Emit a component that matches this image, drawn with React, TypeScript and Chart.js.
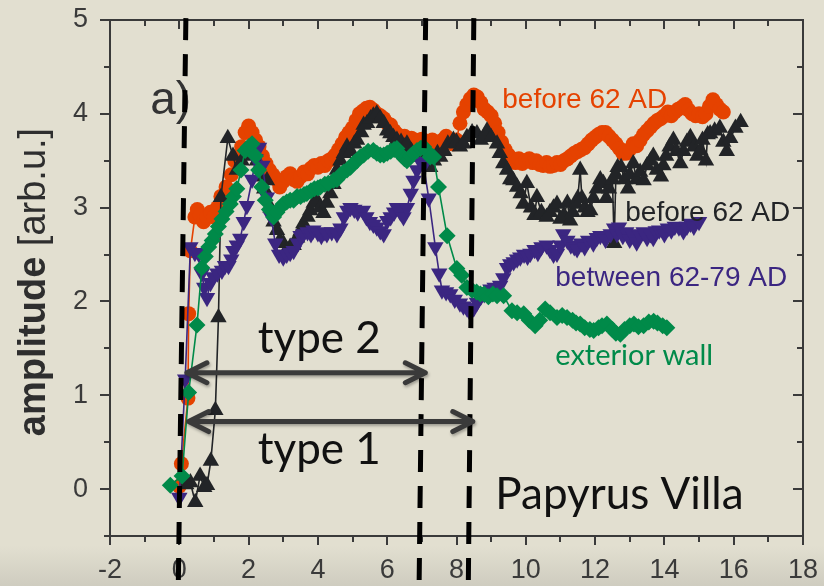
import React, { useEffect, useRef } from 'react';
import { Chart, registerables } from 'chart.js';

Chart.register(...registerables);

// ---- data ---------------------------------------------------------------
// Fresco samples, amplitude vs. position

const before62Red: [number, number][] = [
  [0.0, 0.03], [0.06, 0.27], [0.25, 0.97], [0.27, 1.87], [0.32, 2.54],
  [0.45, 2.9], [0.52, 2.98], [0.6, 2.92], [0.7, 2.85], [0.8, 2.9],
  [0.9, 2.95], [1.0, 2.9], [1.1, 3.0], [1.2, 3.12], [1.35, 3.22],
  [1.5, 3.35], [1.6, 3.5], [1.7, 3.55], [1.8, 3.65], [1.9, 3.8],
  [2.0, 3.87], [2.1, 3.8], [2.2, 3.72], [2.3, 3.65], [2.4, 3.55],
  [2.5, 3.47], [2.6, 3.4], [2.7, 3.35], [2.8, 3.3], [2.9, 3.22],
  [3.0, 3.28], [3.1, 3.33], [3.2, 3.36], [3.3, 3.3], [3.4, 3.28],
  [3.5, 3.33], [3.6, 3.38], [3.7, 3.36], [3.8, 3.42], [3.9, 3.45],
  [4.0, 3.43], [4.1, 3.47], [4.2, 3.45], [4.3, 3.5], [4.4, 3.52],
  [4.5, 3.56], [4.6, 3.62], [4.7, 3.68], [4.8, 3.75], [4.9, 3.8],
  [5.0, 3.85], [5.1, 3.93], [5.2, 4.0], [5.3, 4.03], [5.4, 4.06],
  [5.5, 4.07], [5.6, 4.04], [5.7, 4.0], [5.8, 3.98], [5.9, 3.95],
  [6.0, 3.9], [6.1, 3.88], [6.2, 3.82], [6.3, 3.78], [6.4, 3.75],
  [6.5, 3.76], [6.6, 3.72], [6.7, 3.74], [6.8, 3.72], [6.9, 3.7],
  [7.0, 3.73], [7.1, 3.71], [7.2, 3.68], [7.3, 3.72], [7.4, 3.7],
  [7.5, 3.66], [7.6, 3.72], [7.7, 3.76], [7.8, 3.7], [7.9, 3.68],
  [8.0, 3.72], [8.1, 3.9], [8.2, 4.02], [8.3, 4.1], [8.4, 4.16],
  [8.5, 4.2], [8.6, 4.18], [8.7, 4.12], [8.8, 4.05], [8.9, 4.02],
  [9.0, 3.98], [9.1, 3.9], [9.2, 3.8], [9.3, 3.7], [9.4, 3.62],
  [9.5, 3.56], [9.6, 3.52], [9.7, 3.48], [9.8, 3.52], [9.9, 3.47],
  [10.0, 3.5], [10.1, 3.52], [10.2, 3.48], [10.3, 3.5], [10.4, 3.46],
  [10.5, 3.45], [10.6, 3.48], [10.7, 3.44], [10.8, 3.45], [10.9, 3.48],
  [11.0, 3.46], [11.1, 3.5], [11.2, 3.52], [11.3, 3.55], [11.4, 3.58],
  [11.5, 3.6], [11.6, 3.62], [11.7, 3.64], [11.8, 3.68], [11.9, 3.72],
  [12.0, 3.75], [12.1, 3.78], [12.2, 3.8], [12.3, 3.8], [12.4, 3.76],
  [12.5, 3.72], [12.6, 3.68], [12.7, 3.63], [12.8, 3.58], [12.9, 3.58],
  [13.0, 3.62], [13.1, 3.68], [13.2, 3.66], [13.3, 3.72], [13.4, 3.78],
  [13.5, 3.82], [13.6, 3.86], [13.7, 3.9], [13.8, 3.93], [13.9, 3.95],
  [14.0, 3.98], [14.1, 4.02], [14.2, 3.98], [14.3, 4.02], [14.4, 4.05],
  [14.5, 4.07], [14.6, 4.1], [14.7, 4.04], [14.8, 4.0], [14.9, 3.98],
  [15.0, 4.0], [15.1, 3.97], [15.2, 4.0], [15.3, 4.08], [15.4, 4.15],
  [15.5, 4.1], [15.6, 4.05], [15.7, 4.02],
];

const before62Black: [number, number][] = [
  [0.2, 0.05], [0.32, 0.07], [0.46, -0.14], [0.6, 0.14], [0.72, 0.02],
  [0.8, 0.04], [0.91, 0.3], [1.04, 0.84], [1.13, 1.83], [1.2, 3.11],
  [1.4, 3.74], [1.55, 3.55], [1.66, 3.4], [1.8, 3.5], [2.0, 3.55],
  [2.1, 3.62], [2.24, 3.5], [2.33, 3.33], [2.45, 3.2], [2.53, 3.29],
  [2.63, 3.0], [2.72, 2.85], [2.82, 2.76], [2.9, 2.65], [3.0, 2.62],
  [3.1, 2.55], [3.2, 2.58], [3.3, 2.6], [3.4, 2.68], [3.5, 2.75],
  [3.58, 2.83], [3.7, 2.9], [3.78, 2.97], [3.88, 3.05], [3.97, 3.08],
  [4.06, 3.0], [4.16, 2.94], [4.26, 3.05], [4.36, 3.15], [4.45, 3.25],
  [4.55, 3.4], [4.65, 3.5], [4.75, 3.58], [4.84, 3.65], [4.95, 3.6],
  [5.05, 3.68], [5.13, 3.72], [5.25, 3.8], [5.32, 3.88], [5.42, 3.9],
  [5.52, 3.95], [5.6, 3.98], [5.7, 4.0], [5.8, 3.95], [5.9, 3.9],
  [6.0, 3.82], [6.09, 3.79], [6.18, 3.75], [6.28, 3.72], [6.4, 3.7],
  [6.5, 3.65], [6.57, 3.68], [6.7, 3.6], [6.86, 3.54], [6.96, 3.6],
  [7.05, 3.58], [7.15, 3.5], [7.24, 3.43], [7.35, 3.5], [7.45, 3.58],
  [7.53, 3.54], [7.65, 3.6], [7.75, 3.68], [7.91, 3.72], [8.0, 3.7],
  [8.1, 3.65], [8.2, 3.68], [8.3, 3.75], [8.45, 3.8], [8.59, 3.79],
  [8.7, 3.72], [8.8, 3.76], [8.88, 3.82], [9.0, 3.75], [9.17, 3.68],
  [9.25, 3.58], [9.35, 3.47], [9.46, 3.4], [9.55, 3.3], [9.64, 3.29],
  [9.75, 3.22], [9.85, 3.15], [9.93, 3.04], [10.03, 3.26], [10.15, 3.0],
  [10.25, 2.92], [10.32, 3.11], [10.45, 2.95], [10.6, 2.9], [10.7, 2.95],
  [10.8, 3.0], [10.9, 3.04], [11.0, 2.88], [11.1, 2.92], [11.2, 3.05],
  [11.28, 2.86], [11.35, 2.95], [11.45, 3.04], [11.5, 3.1], [11.57, 3.4],
  [11.62, 3.1], [11.7, 3.0], [11.78, 2.95], [11.86, 2.97], [11.95, 3.1],
  [12.05, 3.2], [12.15, 3.3], [12.24, 3.26], [12.32, 3.1], [12.4, 3.2],
  [12.5, 3.3], [12.55, 2.62], [12.6, 3.35], [12.65, 3.43], [12.75, 3.43],
  [12.85, 3.3], [12.95, 3.2], [13.0, 3.35], [13.1, 3.47], [13.2, 3.3],
  [13.3, 3.38], [13.4, 3.29], [13.5, 3.45], [13.6, 3.5], [13.68, 3.55],
  [13.78, 3.4], [13.9, 3.33], [13.97, 3.45], [14.05, 3.55], [14.15, 3.65],
  [14.26, 3.72], [14.35, 3.6], [14.46, 3.47], [14.55, 3.6], [14.65, 3.7],
  [14.75, 3.75], [14.85, 3.65], [14.95, 3.55], [15.04, 3.61], [15.1, 3.72],
  [15.2, 3.5], [15.25, 3.78], [15.32, 3.79], [15.45, 3.82], [15.6, 3.85],
  [15.7, 3.7], [15.8, 3.6], [15.9, 3.74], [16.05, 3.85], [16.2, 3.91],
];

const between62and79: [number, number][] = [
  [0.0, -0.09], [0.17, 1.17], [0.32, 2.58], [0.45, 2.52], [0.56, 2.51],
  [0.65, 2.3], [0.72, 2.15], [0.8, 2.04], [0.9, 2.2], [0.98, 2.26],
  [1.1, 2.3], [1.23, 2.33], [1.32, 2.38], [1.42, 2.38], [1.5, 2.45],
  [1.56, 2.54], [1.66, 2.6], [1.76, 2.67], [1.86, 2.85], [1.95, 3.02],
  [2.1, 3.3], [2.2, 3.52], [2.3, 3.64], [2.4, 3.45], [2.53, 3.11],
  [2.65, 2.9], [2.77, 2.62], [2.88, 2.5], [3.0, 2.47], [3.1, 2.5],
  [3.2, 2.52], [3.3, 2.54], [3.42, 2.62], [3.5, 2.7], [3.58, 2.72],
  [3.7, 2.74], [3.8, 2.72], [3.87, 2.76], [4.0, 2.73], [4.1, 2.7],
  [4.2, 2.74], [4.26, 2.72], [4.4, 2.74], [4.55, 2.72], [4.65, 2.78],
  [4.75, 2.9], [4.85, 2.97], [4.94, 3.0], [5.05, 2.98], [5.15, 2.95],
  [5.3, 2.97], [5.4, 2.9], [5.5, 2.85], [5.6, 2.82], [5.7, 2.79],
  [5.8, 2.75], [5.9, 2.72], [6.0, 2.86], [6.1, 2.9], [6.2, 2.95],
  [6.28, 3.0], [6.38, 2.95], [6.47, 2.9], [6.57, 3.0], [6.68, 3.15],
  [6.76, 3.29], [6.86, 3.4], [6.96, 3.49], [7.05, 3.45], [7.2, 3.1],
  [7.39, 2.58], [7.5, 2.3], [7.58, 2.12], [7.7, 2.1], [7.82, 2.08],
  [7.95, 2.02], [8.1, 1.98], [8.2, 1.95], [8.3, 1.93], [8.4, 1.88],
  [8.5, 1.93], [8.59, 1.99], [8.7, 2.05], [8.8, 2.08], [8.9, 2.1],
  [8.98, 2.13], [9.1, 2.15], [9.26, 2.17], [9.35, 2.25], [9.46, 2.36],
  [9.55, 2.4], [9.65, 2.42], [9.75, 2.45], [9.84, 2.47], [9.95, 2.5],
  [10.05, 2.48], [10.13, 2.51], [10.25, 2.55], [10.35, 2.52], [10.45, 2.58],
  [10.6, 2.6], [10.7, 2.55], [10.8, 2.5], [10.9, 2.51], [11.0, 2.6],
  [11.08, 2.72], [11.2, 2.65], [11.3, 2.6], [11.4, 2.58], [11.48, 2.56],
  [11.6, 2.62], [11.7, 2.58], [11.8, 2.65], [11.95, 2.62], [12.05, 2.68],
  [12.15, 2.7], [12.3, 2.66], [12.45, 2.72], [12.55, 2.78], [12.63, 2.72],
  [12.69, 2.79], [12.8, 2.7], [12.9, 2.74], [13.0, 2.66], [13.1, 2.7],
  [13.2, 2.63], [13.27, 2.72], [13.4, 2.74], [13.5, 2.68], [13.6, 2.72],
  [13.68, 2.68], [13.75, 2.75], [13.85, 2.76], [14.0, 2.72], [14.1, 2.78],
  [14.2, 2.76], [14.3, 2.8], [14.42, 2.79], [14.55, 2.75], [14.65, 2.8],
  [14.75, 2.83], [14.85, 2.8], [15.0, 2.85],
];

const exteriorWall: [number, number][] = [
  [-0.26, 0.04], [0.08, 0.14], [0.27, 1.03], [0.51, 1.75], [0.65, 2.36],
  [0.75, 2.48], [0.85, 2.58], [0.95, 2.65], [1.04, 2.72], [1.13, 2.8],
  [1.23, 2.88], [1.35, 2.96], [1.47, 3.04], [1.56, 3.12], [1.66, 3.2],
  [1.78, 3.4], [1.9, 3.61], [2.0, 3.65], [2.1, 3.68], [2.2, 3.55],
  [2.29, 3.4], [2.38, 3.22], [2.48, 3.08], [2.6, 2.98], [2.72, 2.9],
  [2.82, 2.95], [2.91, 3.0], [3.0, 3.04], [3.1, 3.06], [3.2, 3.08],
  [3.3, 3.08], [3.4, 3.12], [3.5, 3.12], [3.6, 3.14], [3.68, 3.15],
  [3.8, 3.18], [3.9, 3.2], [4.0, 3.21], [4.07, 3.22], [4.2, 3.25],
  [4.3, 3.26], [4.45, 3.29], [4.55, 3.3], [4.65, 3.35], [4.75, 3.38],
  [4.84, 3.4], [4.94, 3.43], [5.05, 3.48], [5.13, 3.5], [5.22, 3.54],
  [5.32, 3.56], [5.45, 3.6], [5.6, 3.61], [5.7, 3.58], [5.8, 3.56],
  [5.9, 3.56], [6.0, 3.58], [6.1, 3.6], [6.2, 3.62], [6.28, 3.63],
  [6.4, 3.56], [6.5, 3.52], [6.57, 3.5], [6.68, 3.55], [6.76, 3.58],
  [6.86, 3.61], [6.96, 3.63], [7.05, 3.65], [7.15, 3.6], [7.24, 3.54],
  [7.34, 3.54], [7.48, 3.22], [7.73, 2.7], [8.01, 2.35], [8.15, 2.28],
  [8.3, 2.15], [8.45, 2.12], [8.58, 2.1], [8.69, 2.08], [8.8, 2.08],
  [8.92, 2.05], [9.05, 2.08], [9.17, 2.06], [9.36, 2.06], [9.6, 1.9],
  [9.75, 1.88], [9.94, 1.87], [10.1, 1.8], [10.27, 1.74], [10.4, 1.8],
  [10.56, 1.92], [10.7, 1.88], [10.9, 1.83], [11.05, 1.85], [11.19, 1.83],
  [11.35, 1.8], [11.45, 1.77], [11.57, 1.76], [11.7, 1.72], [11.85, 1.7],
  [11.96, 1.69], [12.1, 1.72], [12.2, 1.74], [12.34, 1.76], [12.5, 1.7],
  [12.6, 1.66], [12.73, 1.65], [12.85, 1.7], [13.0, 1.74], [13.12, 1.76],
  [13.25, 1.73], [13.4, 1.74], [13.55, 1.78], [13.69, 1.79], [13.8, 1.77],
  [13.95, 1.74], [14.07, 1.72],
];

// axis ranges and tick values
const X_RANGE = [-2, 18];
const Y_RANGE = [-0.5, 5];
const X_LABEL_TICKS = [-2, 0, 2, 4, 6, 8, 10, 12, 14, 16, 18];
const Y_LABEL_TICKS = [0, 1, 2, 3, 4, 5];

// boundaries of the layer types (x at the top and at the foot of each line)
const boundaryTop = [0.19, 7.11, 8.5];
const boundaryBottom = [-0.03, 6.92, 8.34];

// extent of the two layer types
const typeNames = ['type 2', 'type 1'];
const typeLevels = [1.24, 0.72];
const typeStart = [0.22, 0.27];
const typeEnd = [7.1, 8.47];

// ---- styling ------------------------------------------------------------
const RED = '#e54200';
const BLACK = '#222427';
const PURPLE = '#3b2681';
const GREEN = '#008a49';
const AXIS = '#3a3a3a';
const BG = '#e2dfd0';
const SANS = '"Liberation Sans", Arial, sans-serif';
const ROUND = 'Lato, "Open Sans", sans-serif';

const asPoints = (arr: [number, number][]) => arr.map(([x, y]) => ({ x, y }));

type Note = { text: string; x: number; y: number; font: string; color: string; align: CanvasTextAlign };
const notes: Note[] = [
  { text: 'a)', x: -0.84, y: 4.0, font: `46px ${SANS}`, color: '#333', align: 'left' },
  { text: 'before 62 AD', x: 9.32, y: 4.06, font: `28px ${SANS}`, color: RED, align: 'left' },
  { text: 'before 62 AD', x: 12.87, y: 2.86, font: `28px ${SANS}`, color: BLACK, align: 'left' },
  { text: 'between 62-79 AD', x: 10.85, y: 2.17, font: `28px ${SANS}`, color: PURPLE, align: 'left' },
  { text: 'exterior wall', x: 10.85, y: 1.32, font: `29px ${ROUND}`, color: GREEN, align: 'left' },
  { text: 'Papyrus Villa', x: 9.12, y: -0.21, font: `44px ${ROUND}`, color: '#111', align: 'left' },
];

const backgroundPlugin = {
  id: 'paper',
  beforeDraw(chart: any) {
    const { ctx, width, height } = chart;
    ctx.save();
    ctx.fillStyle = BG;
    ctx.fillRect(0, 0, width, height);
    const g = ctx.createLinearGradient(0, height - 40, 0, height);
    g.addColorStop(0, 'rgba(200,198,186,0)');
    g.addColorStop(1, 'rgba(200,198,186,0.75)');
    ctx.fillStyle = g;
    ctx.fillRect(0, height - 40, width, 40);
    ctx.restore();
  },
};

const framePlugin = {
  id: 'frame',
  afterDatasetsDraw(chart: any) {
    const { ctx, chartArea: a, scales } = chart;
    const xs = scales.x;
    const ys = scales.y;
    ctx.save();
    ctx.strokeStyle = AXIS;
    ctx.lineWidth = 2;
    ctx.strokeRect(a.left, a.top, a.right - a.left, a.bottom - a.top);
    ctx.beginPath();
    for (let v = X_RANGE[0]; v <= X_RANGE[1]; v += 1) {
      const px = Math.round(xs.getPixelForValue(v));
      const len = v % 2 === 0 ? 9 : 6;
      ctx.moveTo(px, a.bottom);
      ctx.lineTo(px, a.bottom + len);
      ctx.moveTo(px, a.top);
      ctx.lineTo(px, a.top + len);
    }
    for (let v = Y_RANGE[0]; v <= Y_RANGE[1] + 1e-9; v += 0.5) {
      const py = Math.round(ys.getPixelForValue(v));
      const len = Number.isInteger(v) ? 10 : 6;
      ctx.moveTo(a.left - len, py);
      ctx.lineTo(a.left, py);
      ctx.moveTo(a.right - len, py);
      ctx.lineTo(a.right, py);
    }
    ctx.stroke();
    ctx.restore();
  },
};

const annotationPlugin = {
  id: 'notes',
  afterDraw(chart: any) {
    const { ctx, chartArea: a, scales } = chart;
    const xs = scales.x;
    const ys = scales.y;
    ctx.save();

    // text annotations
    ctx.textBaseline = 'alphabetic';
    for (const n of notes) {
      ctx.font = n.font;
      ctx.fillStyle = n.color;
      ctx.textAlign = n.align;
      ctx.fillText(n.text, xs.getPixelForValue(n.x), ys.getPixelForValue(n.y));
    }

    // layer boundaries
    ctx.strokeStyle = '#000';
    ctx.lineWidth = 5;
    ctx.setLineDash([22, 14]);
    for (let i = 0; i < boundaryTop.length; i++) {
      ctx.beginPath();
      ctx.moveTo(xs.getPixelForValue(boundaryTop[i]), ys.getPixelForValue(5.02));
      ctx.lineTo(xs.getPixelForValue(boundaryBottom[i]), ys.getPixelForValue(-1.05));
      ctx.stroke();
    }
    ctx.setLineDash([]);

    // double-headed range arrows
    ctx.strokeStyle = '#3a3a3a';
    ctx.lineWidth = 5;
    ctx.lineCap = 'round';
    ctx.lineJoin = 'round';
    ctx.shadowColor = 'rgba(0,0,0,0.3)';
    ctx.shadowBlur = 3;
    ctx.shadowOffsetX = 1;
    ctx.shadowOffsetY = 2;
    for (let i = 0; i < typeNames.length; i++) {
      const py = ys.getPixelForValue(typeLevels[i]);
      const x1 = xs.getPixelForValue(typeStart[i]);
      const x2 = xs.getPixelForValue(typeEnd[i]);
      ctx.beginPath();
      ctx.moveTo(x1, py);
      ctx.lineTo(x2, py);
      ctx.moveTo(x1 + 20, py - 10);
      ctx.lineTo(x1, py);
      ctx.lineTo(x1 + 20, py + 10);
      ctx.moveTo(x2 - 20, py - 10);
      ctx.lineTo(x2, py);
      ctx.lineTo(x2 - 20, py + 10);
      ctx.stroke();
    }
    ctx.shadowColor = 'transparent';
    ctx.font = `44px ${ROUND}`;
    ctx.fillStyle = '#111';
    ctx.textAlign = 'center';
    ctx.fillText(typeNames[0], xs.getPixelForValue(4.04), ys.getPixelForValue(1.45));
    ctx.fillText(typeNames[1], xs.getPixelForValue(4.04), ys.getPixelForValue(0.27));

    // y axis title: bold quantity, regular unit
    ctx.translate(45, (a.top + a.bottom) / 2 + 4);
    ctx.rotate(-Math.PI / 2);
    ctx.fillStyle = '#2e2e2e';
    ctx.textAlign = 'left';
    const bold = `bold 38px ${SANS}`;
    const reg = `38px ${SANS}`;
    ctx.font = bold;
    const w1 = ctx.measureText('amplitude ').width;
    ctx.font = reg;
    const w2 = ctx.measureText('[arb.u.]').width;
    const start = -(w1 + w2) / 2;
    ctx.font = bold;
    ctx.fillText('amplitude', start, 0);
    ctx.font = reg;
    ctx.fillText('[arb.u.]', start + w1, 0);
    ctx.restore();
  },
};

export default function App() {
  const ref = useRef<HTMLCanvasElement | null>(null);

  useEffect(() => {
    if (!ref.current) return;
    const chart = new Chart(ref.current, {
      type: 'line',
      data: {
        datasets: [
          {
            label: 'exterior wall',
            data: asPoints(exteriorWall),
            borderColor: GREEN,
            backgroundColor: GREEN,
            borderWidth: 1.6,
            pointStyle: 'rectRot',
            pointRadius: 8.5,
            pointBorderWidth: 0,
            order: 1,
          },
          {
            label: 'between 62-79 AD',
            data: asPoints(between62and79),
            borderColor: PURPLE,
            backgroundColor: PURPLE,
            borderWidth: 1.6,
            pointStyle: 'triangle',
            pointRotation: 180,
            pointRadius: 9.5,
            pointBorderWidth: 0,
            order: 2,
          },
          {
            label: 'before 62 AD (black)',
            data: asPoints(before62Black),
            borderColor: BLACK,
            backgroundColor: BLACK,
            borderWidth: 1.6,
            pointStyle: 'triangle',
            pointRadius: 9.5,
            pointBorderWidth: 0,
            order: 3,
          },
          {
            label: 'before 62 AD (red)',
            data: asPoints(before62Red),
            borderColor: RED,
            backgroundColor: RED,
            borderWidth: 1.6,
            pointStyle: 'circle',
            pointRadius: 7.5,
            pointBorderWidth: 0,
            order: 4,
          },
        ],
      },
      options: {
        responsive: false,
        animation: false,
        events: [],
        layout: { padding: { left: 0, top: 20, right: 21, bottom: 0 } },
        plugins: { legend: { display: false }, tooltip: { enabled: false } },
        scales: {
          x: {
            type: 'linear',
            min: X_RANGE[0],
            max: X_RANGE[1],
            afterFit: (s: any) => {
              s.height = 50;
              s.paddingLeft = 0;
              s.paddingRight = 0;
            },
            afterBuildTicks: (s: any) => { s.ticks = X_LABEL_TICKS.map((v) => ({ value: v })); },
            grid: { display: false, drawTicks: false },
            border: { display: false },
            ticks: {
              padding: 18,
              color: AXIS,
              font: { family: SANS, size: 27 },
              maxRotation: 0,
              autoSkip: false,
            },
          },
          y: {
            type: 'linear',
            min: Y_RANGE[0],
            max: Y_RANGE[1],
            afterFit: (s: any) => {
              s.width = 110;
              s.paddingTop = 0;
              s.paddingBottom = 0;
            },
            afterBuildTicks: (s: any) => { s.ticks = Y_LABEL_TICKS.map((v) => ({ value: v })); },
            grid: { display: false, drawTicks: false },
            border: { display: false },
            ticks: {
              padding: 22,
              color: AXIS,
              font: { family: SANS, size: 27 },
              autoSkip: false,
            },
          },
        },
      },
      plugins: [backgroundPlugin, framePlugin, annotationPlugin],
    });
    return () => chart.destroy();
  }, []);

  return (
    <div style={{ position: 'absolute', left: 0, top: 0, width: 824, height: 586 }}>
      <canvas ref={ref} width={824} height={586} />
    </div>
  );
}
